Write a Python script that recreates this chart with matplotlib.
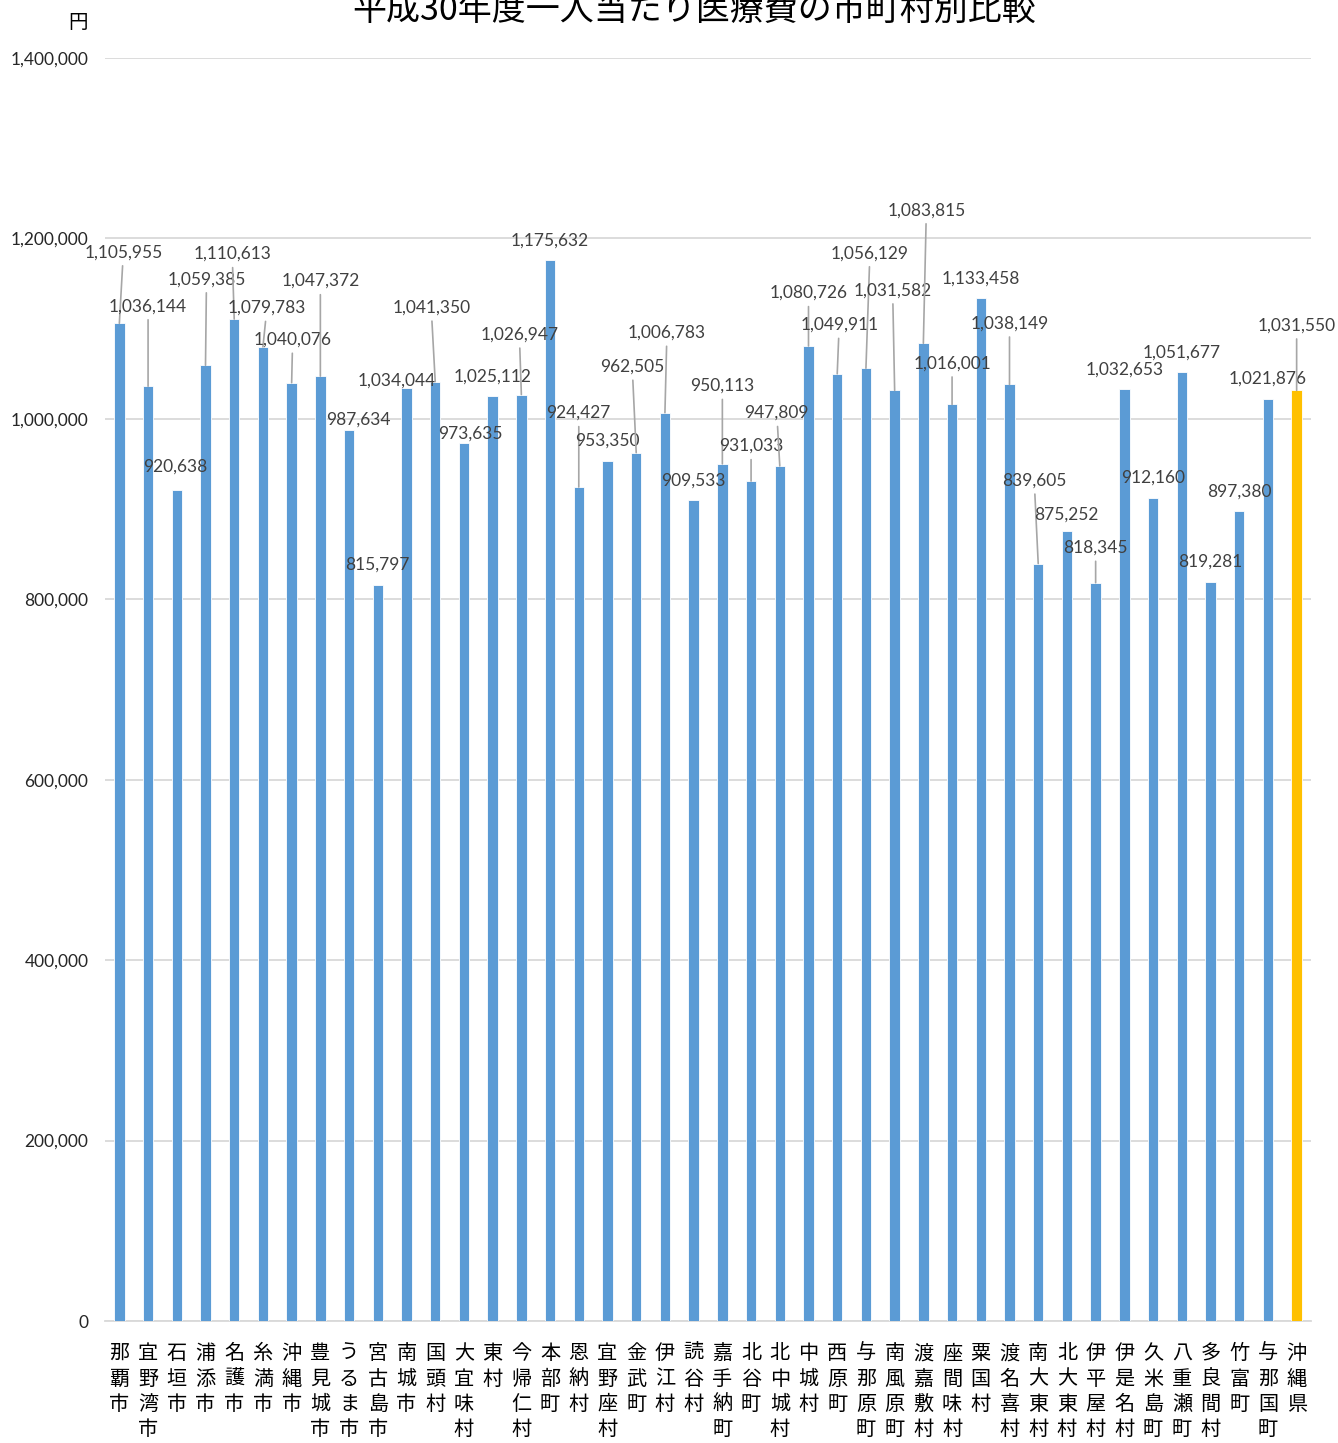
import matplotlib.pyplot as plt
from matplotlib.ticker import FuncFormatter

plt.rcParams['font.family'] = ['Lato', 'Noto Sans CJK JP', 'DejaVu Sans']

# 市町村名
municipalities = [
    "那覇市", "宜野湾市", "石垣市", "浦添市", "名護市", "糸満市", "沖縄市",
    "豊見城市", "うるま市", "宮古島市", "南城市", "国頭村", "大宜味村", "東村",
    "今帰仁村", "本部町", "恩納村", "宜野座村", "金武町", "伊江村", "読谷村",
    "嘉手納町", "北谷町", "北中城村", "中城村", "西原町", "与那原町", "南風原町",
    "渡嘉敷村", "座間味村", "粟国村", "渡名喜村", "南大東村", "北大東村",
    "伊平屋村", "伊是名村", "久米島町", "八重瀬町", "多良間村", "竹富町",
    "与那国町", "沖縄県",
]

# 一人当たり医療費（円）
cost_per_person = [
    1105955, 1036144, 920638, 1059385, 1110613, 1079783, 1040076,
    1047372, 987634, 815797, 1034044, 1041350, 973635, 1025112,
    1026947, 1175632, 924427, 953350, 962505, 1006783, 909533,
    950113, 931033, 947809, 1080726, 1049911, 1056129, 1031582,
    1083815, 1016001, 1133458, 1038149, 839605, 875252,
    818345, 1032653, 912160, 1051677, 819281, 897380,
    1021876, 1031550,
]

y_ticks = [0, 200000, 400000, 600000, 800000, 1000000, 1200000, 1400000]

# label offsets from bar top, in pixels (dx, dy)
label_offsets = [
    (4, 71), (0, 80), (-2, 24), (1, 86), (-2, 65), (4, 39), (1, 43),
    (0, 95), (9, 10), (0, 20), (-10, 8), (-4, 74), (6, 9), (0, 20),
    (-2, 60), (0, 20), (0, 74), (0, 20), (-4, 86), (2, 80), (0, 20),
    (0, 78), (0, 35), (-3, 53), (0, 53), (2, 49), (4, 115), (-2, 100),
    (3, 133), (0, 41), (0, 20), (0, 61), (-4, 83), (-1, 17),
    (0, 35), (0, 20), (0, 20), (0, 20), (0, 20), (0, 20),
    (0, 20), (0, 65),
]

fig = plt.figure(figsize=(13.38, 14.43), dpi=100)
ax = fig.add_axes([105 / 1338, 122 / 1443, 1206 / 1338, 1263 / 1443])

colors = ['#5B9BD5'] * (len(municipalities) - 1) + ['#FFC000']
x = list(range(len(municipalities)))
ax.bar(x, cost_per_person, width=0.36, color=colors, edgecolor='#ffffff',
       linewidth=0.6, zorder=3)

for i, v in enumerate(cost_per_person):
    dx, dy = label_offsets[i]
    arrow = None
    if dy > 30:
        arrow = dict(arrowstyle='-', color='#a6a6a6', lw=1.2,
                     shrinkA=2, shrinkB=0)
    ax.annotate(f"{v:,}", xy=(i, v), xytext=(dx, dy),
                textcoords='offset pixels', ha='center', va='center',
                fontsize=12.5, color='#404040', arrowprops=arrow, zorder=4)

ax.set_xlim(-0.5, len(municipalities) - 0.5)
ax.set_ylim(0, 1400000)
ax.set_yticks(y_ticks)
ax.yaxis.set_major_formatter(FuncFormatter(lambda val, pos: f"{int(val):,}"))
ax.tick_params(axis='y', length=0, pad=12, labelsize=12.5, labelcolor='#262626')
ax.grid(axis='y', color='#d9d9d9', lw=1.3, zorder=0)

ax.set_xticks(x)
ax.set_xticklabels(["\n".join(name) for name in municipalities],
                   fontsize=14.5, linespacing=1.27, va='top',
                   family=['Noto Sans CJK JP', 'DejaVu Sans'])
ax.tick_params(axis='x', length=0, pad=16)

for side in ['top', 'right', 'left']:
    ax.spines[side].set_visible(False)
ax.spines['bottom'].set_color('#d9d9d9')
ax.spines['bottom'].set_linewidth(1.3)

# title sits partly above the top edge, as in the original
fig.text(694 / 1338, 1 - 10 / 1443, "平成30年度一人当たり医療費の市町村別比較",
         ha='center', va='center', fontsize=24.5, color='#000000',
         family=['Noto Sans CJK JP', 'DejaVu Sans'])
fig.text(88 / 1338, 1 - 22 / 1443, "円", ha='right', va='center',
         fontsize=14, family=['Noto Sans CJK JP', 'DejaVu Sans'])

fig.savefig("out.png", dpi=100)
plt.close(fig)
